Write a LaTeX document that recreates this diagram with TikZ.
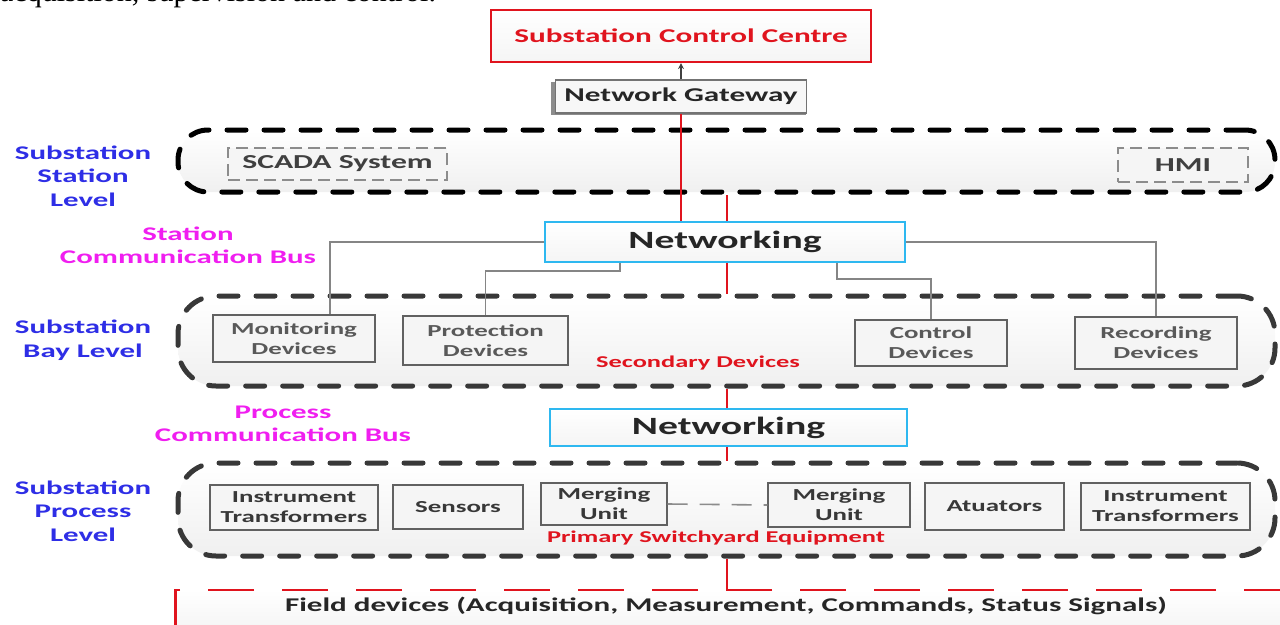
\documentclass[tikz,border=0pt]{standalone}
\usepackage{fontspec}
\setmainfont{Liberation Serif}
\newfontfamily\cf[FakeStretch=1.6]{Carlito}
\usetikzlibrary{arrows.meta}
\definecolor{lvlblue}{HTML}{2E2EE6}
\definecolor{busmag}{HTML}{F01EF0}
\definecolor{ared}{HTML}{E0141E}
\definecolor{netcyan}{HTML}{2EB8F0}
\tikzset{
  fs/.style={font=\cf\bfseries\fontsize{#1}{24}\selectfont},
  lvl/.style={line width=5pt, dash pattern=on 19pt off 18pt, line cap=round,
    top color=white, bottom color=gray!12, rounded corners=30pt, inner sep=0pt},
  dev/.style={draw=black!62, line width=1.4pt, fill=white!96!black, inner sep=0pt,
    align=center, text=black!65, font=\cf\bfseries\fontsize{16.8}{20}\selectfont},
  pdev/.style={dev, text=black!78},
  sysbox/.style={draw=black!45, line width=1.3pt, dash pattern=on 12pt off 6pt,
    fill=white!96!black, inner sep=0pt, text=black!75, fs=19.8},
  netbox/.style={draw=netcyan, line width=1.6pt, top color=white, bottom color=gray!8,
    inner sep=0pt, text=black!85, fs=24.8},
  redline/.style={draw=ared, line width=2.4pt},
  grayline/.style={draw=black!48, line width=1.5pt},
  lvllabel/.style={text=lvlblue, align=center, font=\cf\bfseries\fontsize{19.3}{23.5}\selectfont},
  buslabel/.style={text=busmag, align=center, font=\cf\bfseries\fontsize{19.3}{23.5}\selectfont},
  redlabel/.style={text=ared, fs=16.5},
}
\begin{document}
\begin{tikzpicture}[x=1pt,y=-1pt]
\useasboundingbox (0,0) rectangle (1280,624);
\clip (0,0) rectangle (1280,624);
\fill[white] (0,0) rectangle (1280,624);

% cut-off text line at top
\node[anchor=base west, inner sep=0pt, font=\fontsize{30}{30}\selectfont] (toptext) at (0,1.5) {acquisition, supervision and control.};

% levels
\node[lvl, draw=black, minimum width=1097pt, minimum height=62pt] (station) at (726.5,161) {};
\node[lvl, draw=black!78, minimum width=1097pt, minimum height=90pt, rounded corners=38pt] (bay) at (726.5,341) {};
\node[lvl, draw=black!78, minimum width=1097pt, minimum height=93pt, rounded corners=38pt] (proc) at (726.5,509.5) {};

% top boxes
\node[draw=ared, line width=2.2pt, top color=white, bottom color=gray!8, inner sep=0pt,
  minimum width=380pt, minimum height=52pt, text=ared, fs=19.5] (scc) at (681,36) {Substation Control Centre};
\fill[black!45] (551,82) rectangle (806,115);
\node[draw=black!55, line width=1.4pt, fill=white!97!black, inner sep=0pt,
  minimum width=251pt, minimum height=33pt, text=black!85, fs=19.5] (gw) at (681,96.5) {Network Gateway};

\node[sysbox, minimum width=219pt, minimum height=32pt] (scada) at (337.5,164) {SCADA System};
\node[sysbox, minimum width=130pt, minimum height=34pt] (hmi) at (1183,165) {HMI};

% networking
\node[netbox, minimum width=360pt, minimum height=40pt] (net1) at (725,242) {Networking};
\node[netbox, minimum width=357pt, minimum height=37pt] (net2) at (728.5,427.5) {Networking};

% bay devices
\node[dev, minimum width=162pt, minimum height=47pt] (mon) at (294,338.5) {Monitoring\\Devices};
\node[dev, minimum width=165pt, minimum height=49pt] (prot) at (485.5,340.5) {Protection\\Devices};
\node[dev, minimum width=152pt, minimum height=46pt] (ctrl) at (931,343) {Control\\Devices};
\node[dev, minimum width=162pt, minimum height=52pt] (rec) at (1156,343) {Recording\\Devices};
\node[redlabel] (sec) at (698,363) {Secondary Devices};

% process devices
\node[pdev, minimum width=168pt, minimum height=45pt] (it1) at (294,507.5) {Instrument\\Transformers};
\node[pdev, minimum width=130pt, minimum height=44pt] (sens) at (458,507) {Sensors};
\node[pdev, minimum width=126pt, minimum height=42pt] (mu1) at (604,504) {Merging\\Unit};
\node[pdev, minimum width=142pt, minimum height=44pt] (mu2) at (839,505) {Merging\\Unit};
\node[pdev, minimum width=139pt, minimum height=47pt] (act) at (994.5,506.5) {Atuators};
\node[pdev, minimum width=169pt, minimum height=47pt] (it2) at (1165.5,506.5) {Instrument\\Transformers};
\node[redlabel] (prim) at (716,538) {Primary Switchyard Equipment};

% field devices
\fill[top color=white, bottom color=gray!10] (175,590) rectangle (1290,640);
\draw[ared, line width=2pt, dash pattern=on 46pt off 28pt] (1290,590) -- (175,590);
\draw[ared, line width=3pt] (175,589) -- (175,630);
\node[text=black!85, fs=19.4] (field) at (726,606) {Field devices (Acquisition, Measurement, Commands, Status Signals)};
\coordinate (fieldtop) at (727,590);

% left labels
\node[lvllabel] (l1) at (83,176) {Substation\\Station\\Level};
\node[lvllabel] (l2) at (83,340) {Substation\\Bay Level};
\node[lvllabel] (l3) at (83,511) {Substation\\Process\\Level};
\node[buslabel] (b1) at (188,245.5) {Station\\Communication Bus};
\node[buslabel] (b2) at (283,424) {Process\\Communication Bus};

% connectors
\draw[black!75, line width=1.6pt, -{Stealth[length=6pt,width=6pt]}] (gw.north) -- (gw.north |- scc.south);
\draw[redline] (gw.south) -- (gw.south |- net1.north);
\draw[redline] ([xshift=2pt]net1.north) -- ([xshift=2pt]net1.north |- station.south);
\draw[redline] ([xshift=2pt]net1.south) -- ([xshift=2pt]net1.south |- bay.north);
\draw[redline] ([xshift=-1.5pt]net2.north) -- ([xshift=-1.5pt]net2.north |- bay.south);
\draw[redline] ([xshift=-1.5pt]net2.south) -- ([xshift=-1.5pt]net2.south |- proc.north);
\draw[redline] (fieldtop) -- (fieldtop |- proc.south);

\draw[grayline] (net1.west) -| ([xshift=36pt]mon.north);
\draw[grayline] ([xshift=-105pt]net1.south) -- ++(0,8) -| (prot.north);
\draw[grayline] ([xshift=112pt]net1.south) -- ++(0,16) -| (ctrl.north);
\draw[grayline] (net1.east) -| (rec.north);
\draw[black!45, line width=1.6pt, dash pattern=on 20pt off 12pt] (mu1.east) -- (mu2.west);
\end{tikzpicture}
\end{document}
